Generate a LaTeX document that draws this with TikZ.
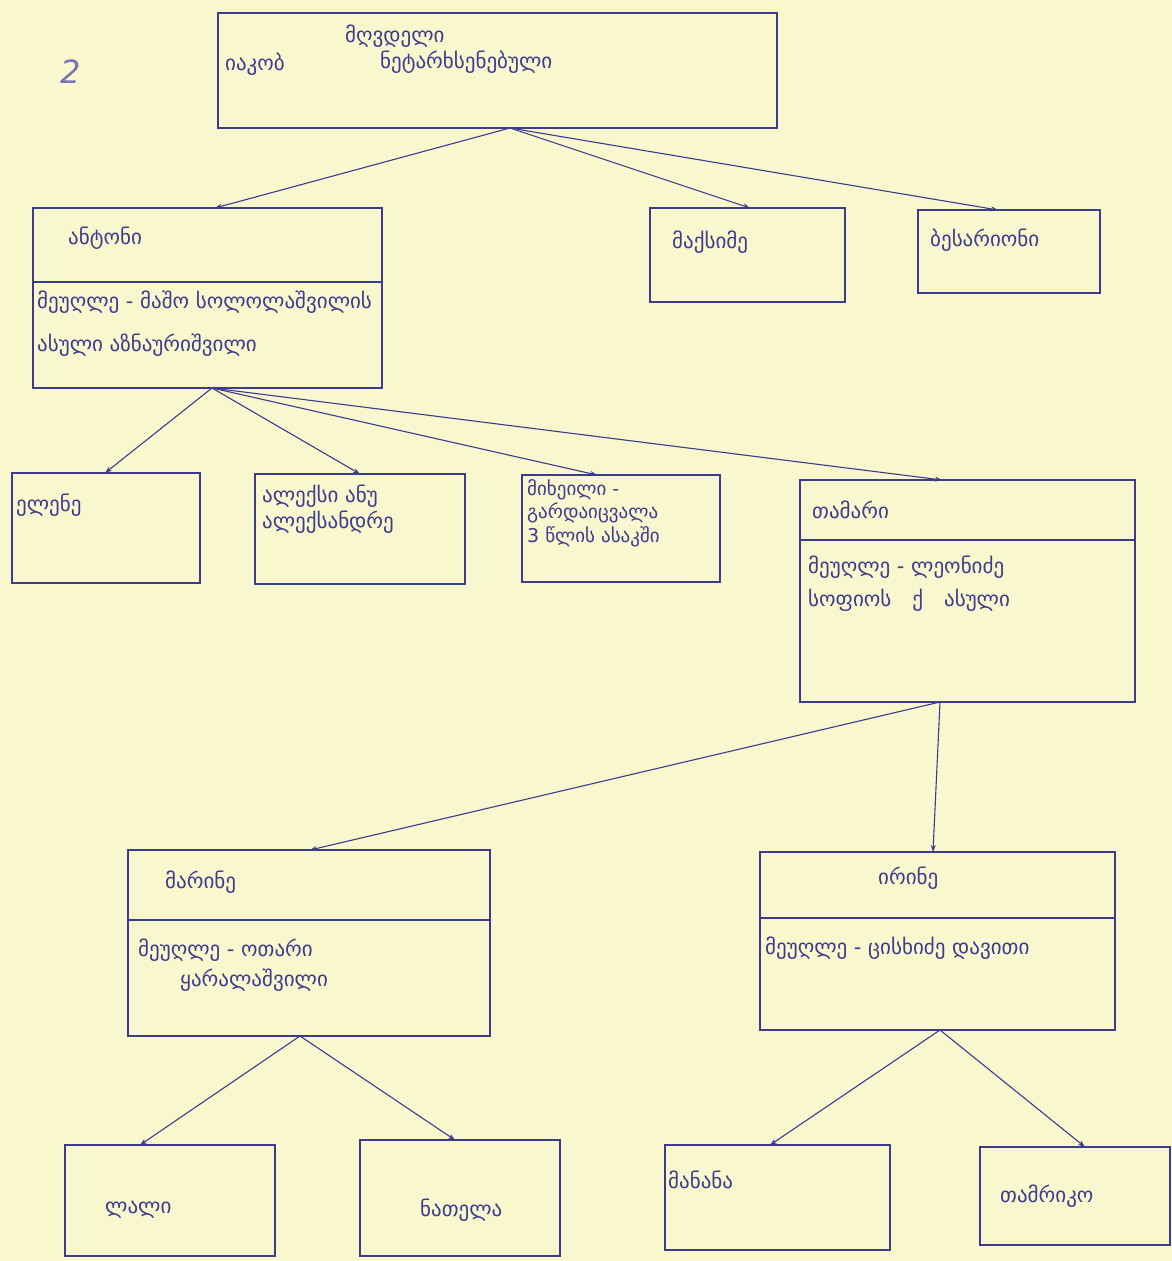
\documentclass[tikz,border=0pt]{standalone}
\usepackage{fontspec}
\newfontfamily\geo{DejaVu Sans}
\usetikzlibrary{arrows.meta}
\definecolor{ink}{HTML}{3D3B8E}
\definecolor{paper}{HTML}{F9F7CE}
\begin{document}
\begin{tikzpicture}[x=1pt,y=-1pt,
  box/.style={draw=ink, line width=1.8pt, inner sep=0pt, outer sep=0pt, rectangle},
  divider/.style={draw=ink, line width=1.5pt},
  conn/.style={draw=ink, line width=1.1pt, -{Stealth[length=7pt,width=5pt]}},
  txt/.style={font=\geo\fontsize{21}{24}\selectfont, text=ink, inner sep=0pt, anchor=west},
  small/.style={txt, font=\geo\fontsize{19}{22}\selectfont}]
\useasboundingbox (0,0) rectangle (1172,1261);
\fill[paper] (0,0) rectangle (1172,1261);
% boxes
\node[box, minimum width=559pt, minimum height=115pt] (T) at (497.5,70.5) {};
\node[box, minimum width=349pt, minimum height=180pt] (L) at (207.5,298) {};
\node[box, minimum width=195pt, minimum height=94pt] (M) at (747.5,255) {};
\node[box, minimum width=182pt, minimum height=83pt] (R) at (1009,251.5) {};
\node[box, minimum width=188pt, minimum height=110pt] (A) at (106,528) {};
\node[box, minimum width=210pt, minimum height=110pt] (B) at (360,529) {};
\node[box, minimum width=198pt, minimum height=107pt] (C) at (621,528.5) {};
\node[box, minimum width=335pt, minimum height=222pt] (D) at (967.5,591) {};
\node[box, minimum width=362pt, minimum height=186pt] (E) at (309,943) {};
\node[box, minimum width=355pt, minimum height=178pt] (F) at (937.5,941) {};
\node[box, minimum width=210pt, minimum height=111pt] (G) at (170,1200.5) {};
\node[box, minimum width=200pt, minimum height=116pt] (H) at (460,1198) {};
\node[box, minimum width=225pt, minimum height=105pt] (I) at (777.5,1197.5) {};
\node[box, minimum width=190pt, minimum height=98pt] (J) at (1075,1196) {};
% dividers
\draw[divider] ([yshift=-74pt]L.north west) -- ([yshift=-74pt]L.north east);
\draw[divider] ([yshift=-60pt]D.north west) -- ([yshift=-60pt]D.north east);
\draw[divider] ([yshift=-70pt]E.north west) -- ([yshift=-70pt]E.north east);
\draw[divider] ([yshift=-66pt]F.north west) -- ([yshift=-66pt]F.north east);
% connectors
\draw[conn] ([xshift=12.5pt]T.south) -- ([xshift=7.5pt]L.north);
\draw[conn] ([xshift=12.5pt]T.south) -- ([xshift=2.5pt]M.north);
\draw[conn] ([xshift=12.5pt]T.south) -- ([xshift=-11pt]R.north);
\draw[conn] ([xshift=4.5pt]L.south) -- ([xshift=-1pt]A.north);
\draw[conn] ([xshift=4.5pt]L.south) -- (B.north);
\draw[conn] ([xshift=4.5pt]L.south) -- ([xshift=-24pt]C.north);
\draw[conn] ([xshift=4.5pt]L.south) -- ([xshift=-25.5pt]D.north);
\draw[conn] ([xshift=-27.5pt]D.south) -- ([xshift=1pt]E.north);
\draw[conn] ([xshift=-27.5pt]D.south) -- ([xshift=-4.5pt]F.north);
\draw[conn] ([xshift=-9pt]E.south) -- ([xshift=-30pt]G.north);
\draw[conn] ([xshift=-9pt]E.south) -- ([xshift=-5pt]H.north);
\draw[conn] ([xshift=2.5pt]F.south) -- ([xshift=-7.5pt]I.north);
\draw[conn] ([xshift=2.5pt]F.south) -- ([xshift=10pt]J.north);
% texts
\node[txt, text=ink!70] (pg) at (60,72) {\itshape\fontsize{32}{36}\selectfont 2};
\node[txt] (T1) at (345,36) {მღვდელი};
\node[txt] (T2) at (225,64) {იაკობ};
\node[txt] (T3) at (380,62) {ნეტარხსენებული};
\node[txt] (Lh) at (68,238) {ანტონი};
\node[txt] (L1) at (37,302) {მეუღლე - მაშო სოლოლაშვილის};
\node[txt] (L2) at (37,345) {ასული აზნაურიშვილი};
\node[txt] (Mh) at (672,242) {მაქსიმე};
\node[txt] (Rh) at (930,240) {ბესარიონი};
\node[txt] (Ah) at (16,505) {ელენე};
\node[txt] (B1) at (262,496) {ალექსი ანუ};
\node[txt] (B2) at (262,522) {ალექსანდრე};
\node[small] (C1) at (527,490) {მიხეილი -};
\node[small] (C2) at (527,513) {გარდაიცვალა};
\node[small] (C3) at (527,537) {3 წლის ასაკში};
\node[txt] (Dh) at (812,510) {თამარი};
\node[txt] (D1) at (808,567) {მეუღლე - ლეონიძე};
\node[txt] (D2) at (808,600) {სოფიოს\quad ქ\quad ასული};
\node[txt] (Eh) at (165,882) {მარინე};
\node[txt] (E1) at (138,950) {მეუღლე - ოთარი};
\node[txt] (E2) at (180,980) {ყარალაშვილი};
\node[txt] (Fh) at (878,878) {ირინე};
\node[txt] (F1) at (765,948) {მეუღლე - ცისხიძე დავითი};
\node[txt] (Gh) at (105,1210) {ლალი};
\node[txt] (Hh) at (420,1210) {ნათელა};
\node[txt] (Ih) at (668,1180) {მანანა};
\node[txt] (Jh) at (1000,1196) {თამრიკო};
\end{tikzpicture}
\end{document}
